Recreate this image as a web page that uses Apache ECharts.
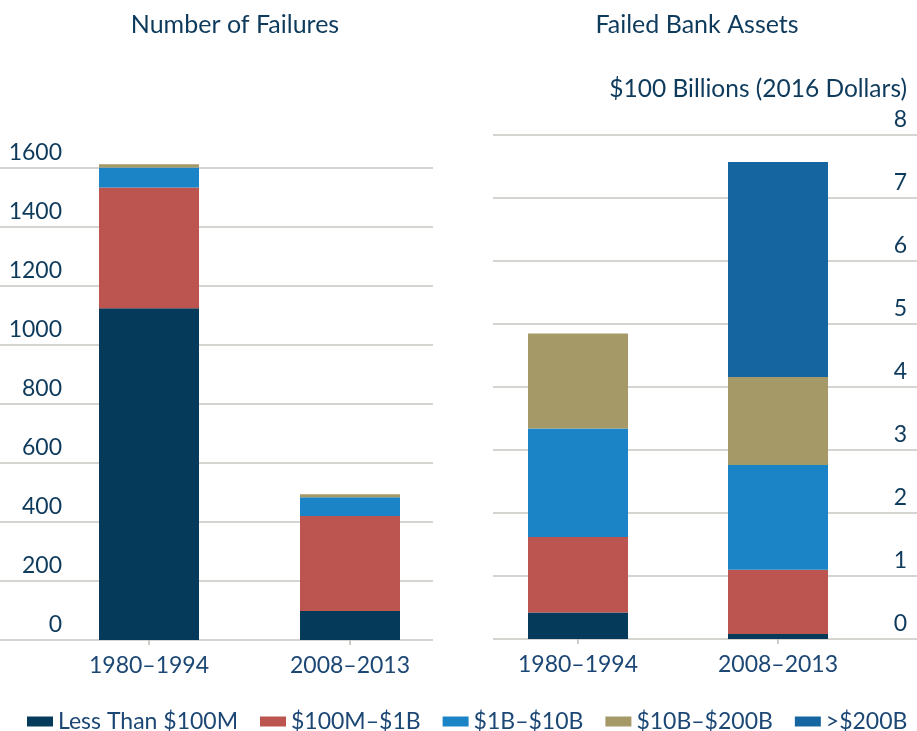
<!DOCTYPE html>
<html>
<head>
<meta charset="utf-8">
<script src="https://cdn.jsdelivr.net/npm/echarts@6/dist/echarts.min.js"></script>
<style>
  html, body { margin: 0; padding: 0; background: #fff; }
  #main { width: 917px; height: 731px; }
</style>
</head>
<body>
<div id="main"></div>
<script>
  // 数据
  var periods = ['1980–1994', '2008–2013'];
  var seriesNames = ['Less Than $100M', '$100M–$1B', '$1B–$10B', '$10B–$200B', '>$200B'];
  var seriesColors = ['#063a5a', '#bc5450', '#1b84c6', '#a69968', '#1566a0'];

  // Number of Failures
  var failuresLess100M = [1125, 98];
  var failures100Mto1B = [409, 322];
  var failures1Bto10B = [68, 64];
  var failures10Bto200B = [11, 10];

  // Failed Bank Assets, $100 billions (2016 dollars)
  var assetsLess100M = [0.42, 0.08];
  var assets100Mto1B = [1.20, 1.02];
  var assets1Bto10B = [1.72, 1.66];
  var assets10Bto200B = [1.51, 1.40];
  var assetsOver200B = [0, 3.41];

  var failuresTicks = { min: 0, max: 1600, interval: 200 };
  var assetsTicks = { min: 0, max: 8, interval: 1 };

  var fontName = 'Lato';
  var navy = '#0e3a5c';
  var blueText = '#1c4775';
  var gridColor = '#c8c6c2';

  var chart = echarts.init(document.getElementById('main'));

  function bgXAxis(gridIndex) {
    return { type: 'value', gridIndex: gridIndex, show: false };
  }
  function barXAxis(gridIndex) {
    return {
      type: 'category',
      gridIndex: gridIndex,
      data: periods,
      axisLine: { show: false },
      axisTick: { show: true, alignWithLabel: true, length: 5, lineStyle: { color: '#bdbbb7', width: 1.5 } },
      axisLabel: { color: blueText, fontFamily: fontName, fontSize: 23, margin: 14 }
    };
  }
  function hiddenYAxis(gridIndex, ticks) {
    return { type: 'value', gridIndex: gridIndex, min: ticks.min, max: ticks.max, interval: ticks.interval, show: false };
  }

  function stackSeries(name, data, xi, yi, stack) {
    return {
      name: name,
      type: 'bar',
      stack: stack,
      xAxisIndex: xi,
      yAxisIndex: yi,
      barWidth: 100,
      clip: false,
      data: data,
      itemStyle: { color: seriesColors[seriesNames.indexOf(name)] },
      emphasis: { disabled: true }
    };
  }

  var plainNumber = function (v) { return String(v); };

  var option = {
    animation: false,
    textStyle: { fontFamily: fontName },
    graphic: [
      { type: 'text', x: 235, y: 25, style: { text: 'Number of Failures', fill: navy, font: '25px ' + fontName, align: 'center', verticalAlign: 'middle' } },
      { type: 'text', x: 697, y: 25, style: { text: 'Failed Bank Assets', fill: navy, font: '25px ' + fontName, align: 'center', verticalAlign: 'middle' } },
      { type: 'text', x: 907, y: 89, style: { text: '$100 Billions (2016 Dollars)', fill: navy, font: '24.5px ' + fontName, align: 'right', verticalAlign: 'middle' } }
    ],
    legend: {
      data: seriesNames,
      left: 22,
      top: 705,
      icon: 'rect',
      itemWidth: 26,
      itemHeight: 10,
      itemGap: 22,
      textStyle: { color: blueText, fontFamily: fontName, fontSize: 23 },
      selectedMode: false
    },
    grid: [
      { left: 0, width: 433, top: 168, bottom: 91 },
      { left: 48.5, width: 402, top: 168, bottom: 91 },
      { left: 493, right: 0, top: 135, bottom: 92 },
      { left: 478, width: 400, top: 135, bottom: 92 }
    ],
    xAxis: [bgXAxis(0), barXAxis(1), bgXAxis(2), barXAxis(3)],
    yAxis: [
      {
        type: 'value', gridIndex: 0,
        min: failuresTicks.min, max: failuresTicks.max, interval: failuresTicks.interval,
        axisLine: { show: false }, axisTick: { show: false },
        splitLine: { show: true, lineStyle: { color: gridColor, width: 1.5 } },
        axisLabel: { inside: true, margin: 62, align: 'right', verticalAlign: 'bottom', padding: [0, 0, 4, 0], color: navy, fontFamily: fontName, fontSize: 23, formatter: plainNumber }
      },
      hiddenYAxis(1, failuresTicks),
      {
        type: 'value', gridIndex: 2, position: 'right',
        min: assetsTicks.min, max: assetsTicks.max, interval: assetsTicks.interval,
        axisLine: { show: false }, axisTick: { show: false },
        splitLine: { show: true, lineStyle: { color: gridColor, width: 1.5 } },
        axisLabel: { inside: true, margin: 10, align: 'right', verticalAlign: 'bottom', padding: [0, 0, 4, 0], color: navy, fontFamily: fontName, fontSize: 23, formatter: plainNumber }
      },
      hiddenYAxis(3, assetsTicks)
    ],
    series: [
      stackSeries('Less Than $100M', failuresLess100M, 1, 1, 'failures'),
      stackSeries('$100M–$1B', failures100Mto1B, 1, 1, 'failures'),
      stackSeries('$1B–$10B', failures1Bto10B, 1, 1, 'failures'),
      stackSeries('$10B–$200B', failures10Bto200B, 1, 1, 'failures'),
      stackSeries('Less Than $100M', assetsLess100M, 3, 3, 'assets'),
      stackSeries('$100M–$1B', assets100Mto1B, 3, 3, 'assets'),
      stackSeries('$1B–$10B', assets1Bto10B, 3, 3, 'assets'),
      stackSeries('$10B–$200B', assets10Bto200B, 3, 3, 'assets'),
      stackSeries('>$200B', assetsOver200B, 3, 3, 'assets')
    ]
  };

  chart.setOption(option);
</script>
</body>
</html>
